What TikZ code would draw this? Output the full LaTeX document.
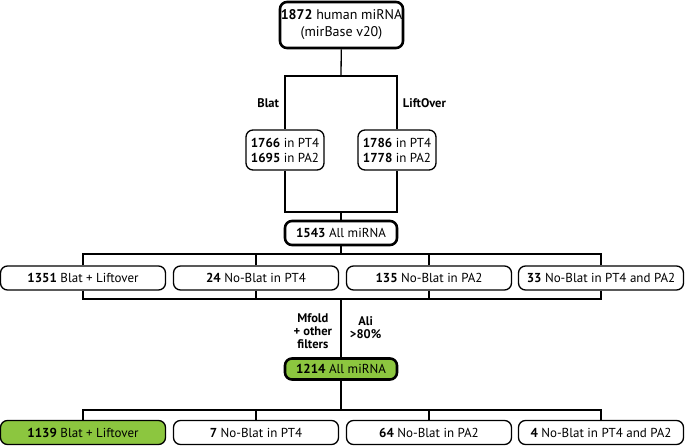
\documentclass[tikz,border=0pt]{standalone}
\usepackage{fontspec}
\setmainfont{PT Sans}
\usetikzlibrary{positioning}
\definecolor{leafgreen}{HTML}{8CC63F}

\begin{document}
\begin{tikzpicture}[x=1pt,y=-1pt,line width=1.3pt,every node/.style={font=\fontsize{13}{15}\selectfont}]
\tikzset{
  box/.style={draw,line width=1.3pt,rounded corners=7pt,inner sep=0pt,minimum width=165pt,minimum height=24pt},
  bigbox/.style={box,line width=2.6pt,minimum width=112pt},
  midbox/.style={box,align=center,minimum width=78pt,minimum height=40pt},
  tag/.style={font=\fontsize{12.5}{13}\selectfont\bfseries,align=center}
}
\useasboundingbox (0,0) rectangle (685,446);
\node[bigbox,align=center,minimum width=123pt,minimum height=46pt,font=\fontsize{14}{17}\selectfont] (top) at (341.5,25) {\textbf{1872} human miRNA\\(mirBase v20)};
\node[midbox] (blat) at (285,150) {\textbf{1766} in PT4\\\textbf{1695} in PA2};
\node[midbox] (lift) at (397,150) {\textbf{1786} in PT4\\\textbf{1778} in PA2};
\node[bigbox] (all) at (341,233) {\textbf{1543} All miRNA};
\node[box] (a1) at (83,278) {\textbf{1351} Blat + Liftover};
\node[box] (a2) at (256,278) {\textbf{24} No-Blat in PT4};
\node[box] (a3) at (429,278) {\textbf{135} No-Blat in PA2};
\node[box] (a4) at (601,278) {\textbf{33} No-Blat in PT4 and PA2};
\node[bigbox,fill=leafgreen,minimum height=21pt] (kept) at (341,369) {\textbf{1214} All miRNA};
\node[box,fill=leafgreen] (b1) at (83,432.5) {\textbf{1139} Blat + Liftover};
\node[box] (b2) at (256,432.5) {\textbf{7} No-Blat in PT4};
\node[box] (b3) at (429,432.5) {\textbf{64} No-Blat in PA2};
\node[box] (b4) at (601,432.5) {\textbf{4} No-Blat in PT4 and PA2};
\coordinate (split1) at (341,76);
\coordinate (join1) at (341,212);
\coordinate (split2) at (341,254);
\coordinate (join2) at (341,299);
\coordinate (split3) at (341,410);
\draw (top) -- (split1);
\draw (split1) -| node[pos=0.75,left=2pt,tag]{Blat} (blat.north);
\draw (split1) -| node[pos=0.75,right=2pt,tag]{LiftOver} (lift.north);
\draw (blat.south) |- (join1) -| (lift.south);
\draw (join1) -- (all.north);
\draw (all.south) -- (split2);
\foreach \i in {1,...,4} {
  \draw (a\i.north) |- (split2);
  \draw (a\i.south) |- (join2);
  \draw (b\i.north) |- (split3);
}
\draw (join2) -- node[pos=0.55,left=5pt,tag]{Mfold\\+ other\\filters} node[pos=0.5,right=5pt,tag]{Ali\\>80\%} (kept.north);
\draw (kept.south) -- (split3);
\end{tikzpicture}
\end{document}
